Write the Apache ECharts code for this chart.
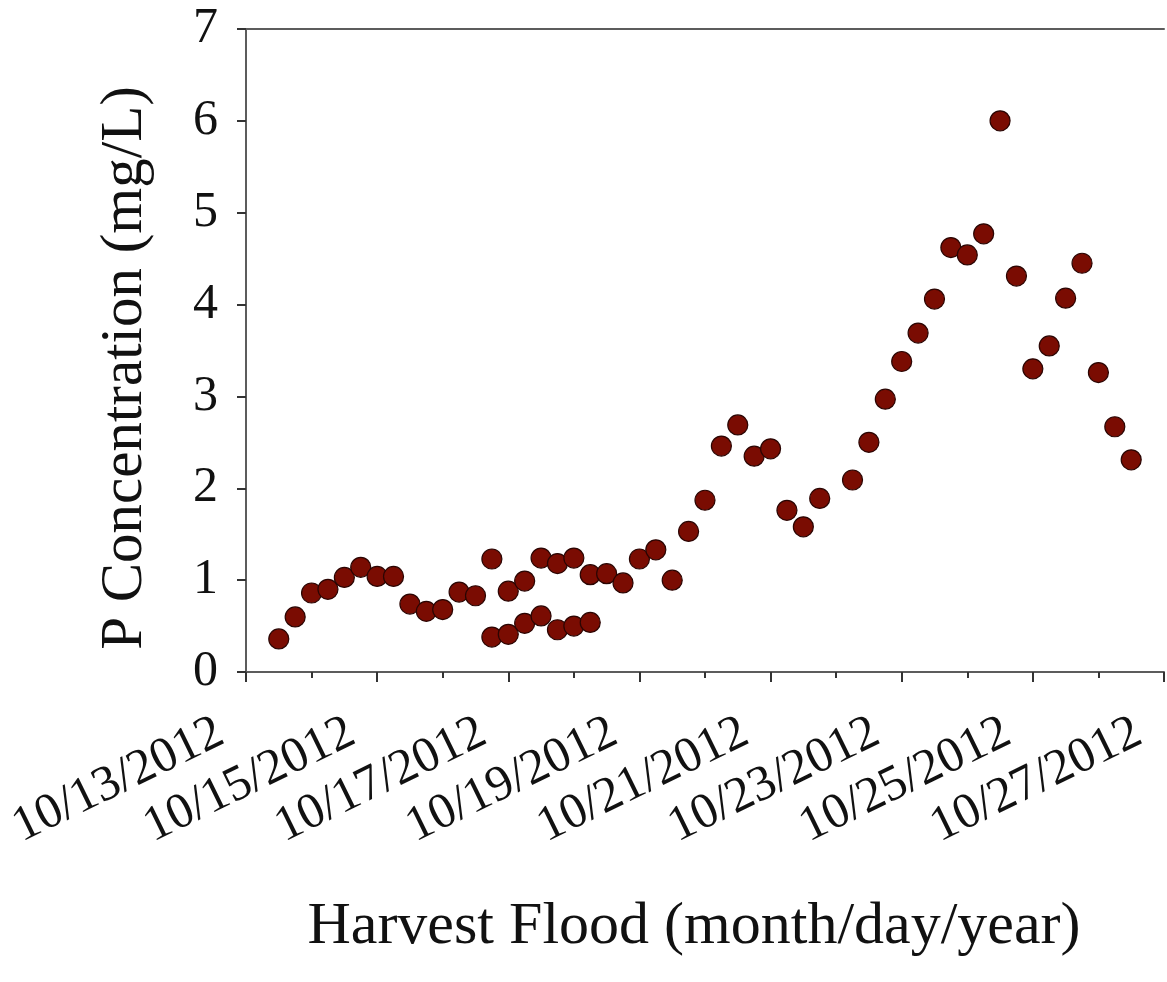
<!DOCTYPE html>
<html>
<head>
<meta charset="utf-8">
<script src="https://cdn.jsdelivr.net/npm/echarts@6/dist/echarts.min.js"></script>
<style>
html,body{margin:0;padding:0;background:#fff;}
#chart{width:1167px;height:982px;}
</style>
</head>
<body>
<div id="chart"></div>
<script>
// Days after 10/13/2012 00:00 at which each sample was taken
const sampleDay = [0.5,0.75,1,1.25,1.5,1.75,2,2.25,2.5,2.75,3,3.25,3.5,
  3.75,3.75,4,4,4.25,4.25,4.5,4.5,4.75,4.75,5,5,5.25,5.25,
  5.5,5.75,6,6.25,6.5,6.75,7,7.25,7.5,7.75,8,8.25,8.5,8.75,
  9.25,9.5,9.75,10,10.25,10.5,10.75,11,11.25,11.5,11.75,12,12.25,12.5,12.75,13,13.25,13.5];
// P concentration (mg/L)
const pConc = [0.36,0.60,0.86,0.90,1.03,1.14,1.04,1.04,0.74,0.66,0.68,0.87,0.83,
  1.23,0.38,0.88,0.41,0.99,0.53,1.24,0.61,1.18,0.46,1.24,0.50,1.06,0.54,
  1.07,0.97,1.23,1.33,1.00,1.53,1.87,2.46,2.69,2.35,2.43,1.76,1.58,1.89,
  2.09,2.50,2.97,3.38,3.69,4.06,4.62,4.54,4.77,6.00,4.31,3.30,3.55,4.07,4.45,3.26,2.67,2.31];
// x tick labels (every 2 days)
const dateLabels = ['10/13/2012','10/15/2012','10/17/2012','10/19/2012','10/21/2012','10/23/2012','10/25/2012','10/27/2012'];
const yTicks = [0,1,2,3,4,5,6,7];
const xTitle = 'Harvest Flood (month/day/year)';
const yTitle = 'P Concentration (mg/L)';

const points = sampleDay.map((d, i) => [d, pConc[i]]);
const FONT = '"Liberation Serif", "Times New Roman", serif';
const AXIS_COLOR = '#5c5c5c';

const chart = echarts.init(document.getElementById('chart'), null, {renderer: 'canvas'});
chart.setOption({
  animation: false,
  backgroundColor: '#ffffff',
  grid: {left: 246, right: 3, top: 29, bottom: 310, show: false},
  xAxis: [{
    type: 'value', min: 0, max: 14, interval: 2, position: 'bottom',
    axisLine: {show: true, onZero: false, lineStyle: {color: AXIS_COLOR, width: 2}},
    axisTick: {show: true, inside: false, length: 10, lineStyle: {color: '#333', width: 2}},
    minorTick: {show: true, splitNumber: 2, length: 6, lineStyle: {color: '#333', width: 2}},
    splitLine: {show: false},
    minorSplitLine: {show: false},
    axisLabel: {
      rotate: 26, margin: 46, padding: [0, 28, 0, 0],
      fontFamily: FONT, fontSize: 50, color: '#111',
      showMinLabel: true, showMaxLabel: true,
      formatter: v => dateLabels[Math.round(v / 2)] || ''
    }
  }, {
    type: 'value', min: 0, max: 14, interval: 2, position: 'top',
    axisLine: {show: true, onZero: false, lineStyle: {color: AXIS_COLOR, width: 2}},
    axisTick: {show: false}, axisLabel: {show: false}, splitLine: {show: false}
  }],
  yAxis: {
    type: 'value', min: yTicks[0], max: yTicks[yTicks.length - 1], interval: 1,
    axisLine: {show: true, onZero: false, lineStyle: {color: AXIS_COLOR, width: 2}},
    axisTick: {show: true, inside: false, length: 9, lineStyle: {color: '#333', width: 2}},
    splitLine: {show: false},
    axisLabel: {margin: 28, fontFamily: FONT, fontSize: 50, color: '#111'}
  },
  graphic: [
    {type: 'text', x: 694, y: 927, style: {text: xTitle, font: '60px ' + FONT, fill: '#111', align: 'center', verticalAlign: 'middle'}},
    {type: 'text', x: 125, y: 368, rotation: Math.PI / 2, style: {text: yTitle, font: '59px ' + FONT, fill: '#111', align: 'center', verticalAlign: 'middle'}}
  ],
  series: [{
    type: 'scatter',
    xAxisIndex: 0,
    data: points,
    symbol: 'circle',
    symbolSize: 20,
    itemStyle: {color: '#7a0c02', borderColor: '#2a0503', borderWidth: 1.2, opacity: 1}
  }]
});
</script>
</body>
</html>
